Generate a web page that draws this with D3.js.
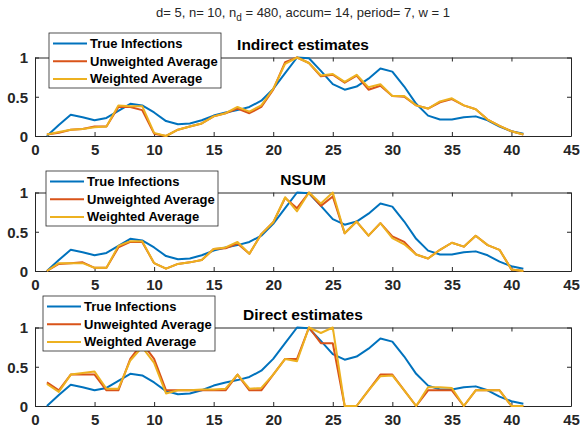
<!DOCTYPE html>
<html>
<head>
<meta charset="utf-8">
<script src="https://cdn.jsdelivr.net/npm/d3@7"></script>
<style>
  body { margin: 0; background: #fff; }
  svg { font-family: "Liberation Sans", Arial, sans-serif; }
  .axis path, .axis line { stroke: #262626; }
  .axis text { fill: #262626; font-size: 15px; font-weight: bold; }
</style>
</head>
<body>
<svg id="fig"></svg>
<script>
// days 1..41
var days = d3.range(1, 42);

var trueInfections = [0, 0.14, 0.27, 0.24, 0.2, 0.23, 0.32, 0.41, 0.39, 0.3, 0.19, 0.15, 0.16, 0.2, 0.26, 0.3, 0.33, 0.37, 0.45, 0.6, 0.8, 1.0, 0.99, 0.83, 0.66, 0.59, 0.63, 0.73, 0.86, 0.82, 0.63, 0.41, 0.26, 0.21, 0.21, 0.24, 0.25, 0.2, 0.12, 0.06, 0.03];

var indirectUnweighted = [0.02, 0.04, 0.08, 0.09, 0.12, 0.12, 0.37, 0.37, 0.33, 0.03, 0.0, 0.08, 0.12, 0.16, 0.25, 0.29, 0.35, 0.29, 0.37, 0.59, 0.94, 1.0, 0.93, 0.76, 0.78, 0.68, 0.77, 0.59, 0.64, 0.51, 0.5, 0.39, 0.35, 0.43, 0.47, 0.39, 0.34, 0.21, 0.13, 0.06, 0.02];
var indirectWeighted = [0.02, 0.05, 0.08, 0.09, 0.11, 0.12, 0.39, 0.38, 0.38, 0.04, 0.0, 0.08, 0.12, 0.16, 0.25, 0.29, 0.37, 0.31, 0.39, 0.6, 0.92, 1.0, 0.93, 0.77, 0.79, 0.69, 0.78, 0.62, 0.66, 0.51, 0.51, 0.39, 0.35, 0.44, 0.48, 0.39, 0.34, 0.21, 0.13, 0.06, 0.02];

var nsumUnweighted = [0, 0.09, 0.1, 0.11, 0.04, 0.04, 0.3, 0.37, 0.37, 0.1, 0.03, 0.09, 0.11, 0.14, 0.28, 0.29, 0.35, 0.22, 0.47, 0.62, 0.93, 0.8, 1.0, 0.83, 0.95, 0.48, 0.63, 0.45, 0.61, 0.44, 0.37, 0.21, 0.16, 0.27, 0.36, 0.31, 0.45, 0.33, 0.27, 0.02, 0.0];
var nsumWeighted = [0, 0.1, 0.1, 0.1, 0.04, 0.04, 0.32, 0.38, 0.38, 0.1, 0.03, 0.09, 0.11, 0.14, 0.28, 0.3, 0.37, 0.22, 0.47, 0.62, 0.94, 0.76, 1.0, 0.86, 1.0, 0.48, 0.63, 0.45, 0.61, 0.42, 0.34, 0.21, 0.16, 0.27, 0.36, 0.31, 0.45, 0.33, 0.27, 0.02, 0.0];

var directUnweighted = [0.3, 0.2, 0.4, 0.4, 0.4, 0.2, 0.2, 0.6, 0.8, 0.6, 0.2, 0.2, 0.2, 0.2, 0.2, 0.2, 0.4, 0.2, 0.2, 0.4, 0.6, 0.6, 1.0, 0.8, 0.8, 0, 0, 0.2, 0.4, 0.4, 0.2, 0, 0.2, 0.2, 0.2, 0, 0.2, 0.2, 0.2, 0, 0];
var directWeighted = [0.28, 0.18, 0.4, 0.42, 0.44, 0.22, 0.22, 0.58, 0.75, 0.55, 0.16, 0.2, 0.2, 0.21, 0.21, 0.22, 0.4, 0.22, 0.23, 0.4, 0.6, 0.57, 1.0, 0.93, 1.0, 0, 0, 0.2, 0.38, 0.39, 0.2, 0, 0.24, 0.24, 0.23, 0, 0.2, 0.2, 0.2, 0, 0];

var panelTitles = ["Indirect estimates", "NSUM", "Direct estimates"];
var seriesNames = ["True Infections", "Unweighted Average", "Weighted Average"];
var colors = ["#0072BD", "#D95319", "#EDB120"];
var xTicks = [0, 5, 10, 15, 20, 25, 30, 35, 40, 45];
var yTicks = [0, 0.5, 1];

var panels = [
    [trueInfections, indirectUnweighted, indirectWeighted],
    [trueInfections, nsumUnweighted, nsumWeighted],
    [trueInfections, directUnweighted, directWeighted]
];

var width = 580, height = 432,
    left = 35, right = 571,
    axTops = [57.5, 192.5, 327.5],
    axH = 78.5,
    // legend boxes sit a bit differently in each panel
    legendPos = [{x: 49, y: 33}, {x: 46, y: 171}, {x: 43, y: 296}],
    legendW = 172, legendH = 55;

var svg = d3.select("#fig").attr("width", width).attr("height", height);

var xScale = d3.scaleLinear().domain([0, 45]).range([left, right]);

// figure title with subscript
var sup = svg.append("text")
    .attr("x", 303).attr("y", 17)
    .attr("text-anchor", "middle")
    .attr("font-size", 13).attr("fill", "#262626");
sup.append("tspan").text("d= 5, n= 10, n");
sup.append("tspan").attr("font-size", 10).attr("dy", 4).text("d");
sup.append("tspan").attr("dy", -4).text(" = 480, accum= 14, period= 7, w = 1");

panels.forEach(function(series, p) {
    var top = axTops[p], bottom = top + axH;
    var yScale = d3.scaleLinear().domain([0, 1]).range([bottom, top]);

    var g = svg.append("g");

    g.append("g").attr("class", "x axis")
        .attr("transform", "translate(0," + bottom + ")")
        .call(d3.axisBottom(xScale).tickValues(xTicks).tickSize(-4).tickPadding(9).tickSizeOuter(0));
    g.append("g").attr("class", "x axis")
        .attr("transform", "translate(0," + top + ")")
        .call(d3.axisTop(xScale).tickValues(xTicks).tickSize(-4).tickFormat("").tickSizeOuter(0));
    g.append("g").attr("class", "y axis")
        .attr("transform", "translate(" + left + ",0)")
        .call(d3.axisLeft(yScale).tickValues(yTicks).tickSize(-4).tickPadding(7).tickSizeOuter(0)
            .tickFormat(function(d){ return d === 0.5 ? "0.5" : d3.format("d")(d); }));
    g.append("g").attr("class", "y axis")
        .attr("transform", "translate(" + right + ",0)")
        .call(d3.axisRight(yScale).tickValues(yTicks).tickSize(-4).tickFormat("").tickSizeOuter(0));

    g.selectAll(".axis text").attr("dy", null);
    g.selectAll(".x.axis text").attr("dy", "0.68em");
    g.selectAll(".y.axis text").attr("dy", "0.35em");

    var line = d3.line()
        .x(function(d, i){ return xScale(days[i]); })
        .y(function(d){ return yScale(d); });

    series.forEach(function(s, k) {
        g.append("path")
            .attr("d", line(s))
            .attr("fill", "none")
            .attr("stroke", colors[k])
            .attr("stroke-width", 2)
            .attr("stroke-linejoin", "round");
    });

    g.append("text")
        .attr("x", (left + right) / 2).attr("y", top - 8)
        .attr("text-anchor", "middle")
        .attr("font-size", 15.5).attr("font-weight", "bold")
        .attr("fill", "#000")
        .text(panelTitles[p]);

    // legend
    var lp = legendPos[p];
    var lg = g.append("g").attr("transform", "translate(" + lp.x + "," + lp.y + ")");
    lg.append("rect")
        .attr("width", legendW).attr("height", legendH)
        .attr("fill", "#fff").attr("stroke", "#262626").attr("stroke-width", 0.8);
    seriesNames.forEach(function(name, k) {
        var cy = 10.5 + k * 17.7;
        lg.append("line")
            .attr("x1", 4).attr("x2", 38).attr("y1", cy).attr("y2", cy)
            .attr("stroke", colors[k]).attr("stroke-width", 2);
        lg.append("text")
            .attr("x", 41).attr("y", cy).attr("dy", "0.35em")
            .attr("font-size", 13).attr("font-weight", "bold")
            .attr("fill", "#000")
            .text(name);
    });
});
</script>
</body>
</html>
